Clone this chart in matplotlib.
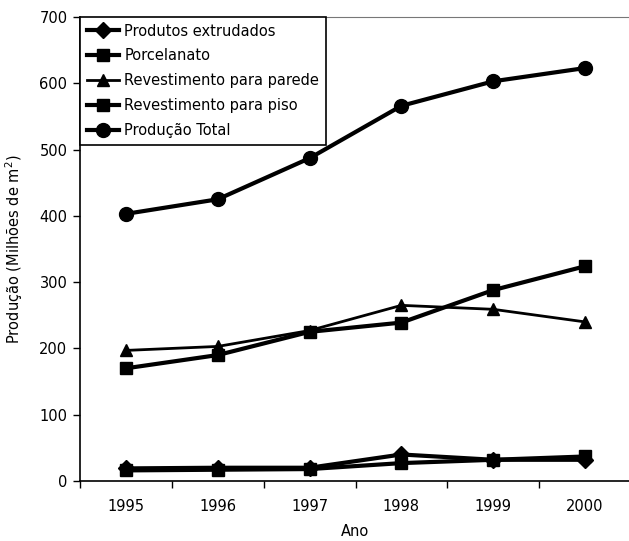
import numpy as np
import matplotlib.pyplot as plt

anos = ['1995', '1996', '1997', '1998', '1999', '2000']
extrudados = [19, 20, 20, 40, 32, 32]
porcelanato = [16, 17, 18, 27, 32, 37]
parede = [197, 203, 227, 265, 259, 240]
piso = [170, 190, 225, 239, 288, 324]
total = [403, 425, 487, 566, 603, 623]

plt.rcParams['font.family'] = 'DejaVu Sans'
plt.rcParams['font.size'] = 10

fig = plt.figure(figsize=(6.29, 5.41), dpi=100)
ax = fig.add_axes([80 / 629, 1 - 481 / 541, 551 / 629, 464 / 541])

x = np.arange(len(anos))
ax.plot(x, extrudados, color='black', lw=3, marker='D', ms=8, label='Produtos extrudados')
ax.plot(x, porcelanato, color='black', lw=3, marker='s', ms=9, label='Porcelanato')
ax.plot(x, parede, color='black', lw=2, marker='^', ms=9, label='Revestimento para parede')
ax.plot(x, piso, color='black', lw=3, marker='s', ms=9, label='Revestimento para piso')
ax.plot(x, total, color='black', lw=3, marker='o', ms=10, label='Produção Total')

ax.set_xlim(-0.5, len(anos) - 0.5)
ax.set_ylim(0, 700)
ax.set_yticks(range(0, 701, 100))
ax.set_xticks(x)
ax.set_xticklabels(anos)
ax.set_xticks(np.arange(-0.5, len(anos), 1), minor=True)
ax.tick_params(axis='x', which='major', length=0, pad=13, labelsize=10.5)
ax.tick_params(axis='x', which='minor', length=5, width=1)
ax.tick_params(axis='y', length=5, width=1, pad=4, labelsize=10.5)

ax.spines['right'].set_visible(False)
ax.spines['top'].set_color('#777777')
ax.spines['left'].set_linewidth(1.2)
ax.spines['bottom'].set_linewidth(1.2)

ax.set_xlabel('Ano', fontsize=10.5, labelpad=7)
ax.set_ylabel('Produção (Milhões de m$^2$)', fontsize=10.5, labelpad=10)

leg = ax.legend(loc='upper left', bbox_to_anchor=(0, 1), borderaxespad=0,
                fancybox=False, edgecolor='black', framealpha=1,
                fontsize=10.5, handlelength=2.2, labelspacing=0.68,
                handletextpad=0.4, borderpad=0.45)
leg.get_frame().set_linewidth(1.2)

fig.savefig('out.png', dpi=100)
